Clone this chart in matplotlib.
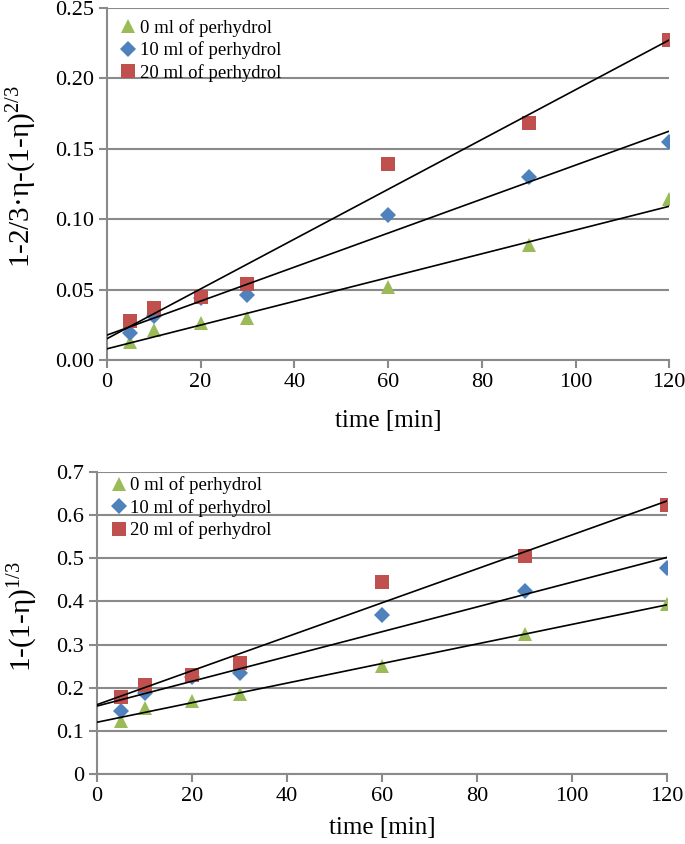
import numpy as np
import matplotlib
matplotlib.use("Agg")
import matplotlib.pyplot as plt

plt.rcParams['font.family'] = ['Liberation Serif', 'DejaVu Serif']
plt.rcParams['mathtext.fontset'] = 'custom'
plt.rcParams['mathtext.rm'] = 'Liberation Serif'
plt.rcParams['mathtext.it'] = 'Liberation Serif:italic'

time_min = [5, 10, 20, 30, 60, 90, 120]
series_labels = ["0 ml of perhydrol", "10 ml of perhydrol", "20 ml of perhydrol"]

top_0ml = [0.013, 0.021, 0.026, 0.030, 0.052, 0.082, 0.114]
top_10ml = [0.019, 0.031, 0.044, 0.046, 0.103, 0.130, 0.155]
top_20ml = [0.028, 0.037, 0.045, 0.054, 0.139, 0.168, 0.227]

bot_0ml = [0.123, 0.153, 0.169, 0.185, 0.250, 0.325, 0.394]
bot_10ml = [0.146, 0.188, 0.225, 0.234, 0.369, 0.424, 0.478]
bot_20ml = [0.178, 0.206, 0.229, 0.257, 0.445, 0.505, 0.623]

top_yticks = [0.00, 0.05, 0.10, 0.15, 0.20, 0.25]
bot_yticks = [0, 0.1, 0.2, 0.3, 0.4, 0.5, 0.6, 0.7]
xticks = [0, 20, 40, 60, 80, 100, 120]

colors = ['#9BBB59', '#4F81BD', '#C0504D']
markers = ['^', 'D', 's']
msizes = [10.5, 8.5, 10.5]
gray = '#8A8A8A'

fig = plt.figure(figsize=(6.85, 8.44), dpi=100)
ax1 = fig.add_axes([0.156, 0.5735, 0.821, 0.417])
ax2 = fig.add_axes([0.1416, 0.083, 0.8324, 0.3578])


def draw(ax, data, yticks, ylabel, fmt, ylim, ylab_x, leg_anchor, xpad):
    t = np.array(time_min, dtype=float)
    for ys, c, m, ms, lab in zip(data, colors, markers, msizes, series_labels):
        ax.plot(t, ys, linestyle='none', marker=m, color=c, markersize=ms,
                markeredgewidth=0, label=lab, zorder=3)
    for ys in data:
        k, b = np.polyfit(t, ys, 1)
        xx = np.array([0, 120])
        ax.plot(xx, k * xx + b, color='black', lw=1.2, zorder=4)
    ax.set_xlim(0, 120)
    ax.set_ylim(*ylim)
    ax.set_xticks(xticks)
    ax.set_yticks(yticks)
    ax.set_yticklabels([fmt(v) for v in yticks])
    ax.yaxis.grid(True, color=gray, lw=1.5)
    ax.set_axisbelow(True)
    for s in ['top', 'right']:
        ax.spines[s].set_visible(False)
    for s in ['left', 'bottom']:
        ax.spines[s].set_color(gray)
        ax.spines[s].set_linewidth(1.5)
    ax.tick_params(axis='both', colors=gray, length=6, width=1.5,
                   labelcolor='black', labelsize=16, direction='out')
    ax.set_xlabel('time [min]', fontsize=18, labelpad=xpad)
    ax.set_ylabel(ylabel, fontsize=21)
    ax.yaxis.set_label_coords(ylab_x, 0.52)
    leg = ax.legend(loc='upper left', frameon=False, fontsize=13.5,
                    handletextpad=0.0, handlelength=1.2, borderaxespad=0.0,
                    labelspacing=0.25, bbox_to_anchor=leg_anchor)
    return leg


draw(ax1, [top_0ml, top_10ml, top_20ml], top_yticks,
     r'1-2/3·η-(1-η)$^{2/3}$', lambda v: f'{v:.2f}', (0, 0.25),
     -0.12, (0.005, 0.99), 13)
draw(ax2, [bot_0ml, bot_10ml, bot_20ml], bot_yticks,
     r'1-(1-η)$^{1/3}$', lambda v: '0' if v == 0 else f'{v:.1f}', (0, 0.7),
     -0.10, (0.005, 1.01), 8)

fig.savefig('out.png', dpi=100)
